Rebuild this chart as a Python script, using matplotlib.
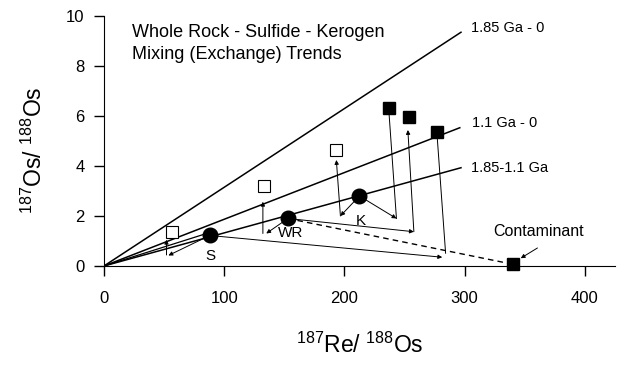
import matplotlib
matplotlib.use('Agg')
import matplotlib.pyplot as plt

plt.rcParams['font.family'] = ['Liberation Sans', 'DejaVu Sans']
plt.rcParams['mathtext.fontset'] = 'custom'
plt.rcParams['mathtext.rm'] = 'Liberation Sans'
plt.rcParams['mathtext.default'] = 'rm'

# reference isochrons (from origin to end point)
iso_labels = ['1.85 Ga - 0', '1.1 Ga - 0', '1.85-1.1 Ga']
iso_end_x = [297, 296, 297]
iso_end_y = [9.35, 5.53, 3.93]

# samples: whole rock, sulfide, kerogen
circle_names = ['S', 'WR', 'K']
circle_x = [88, 153, 212.5]
circle_y = [1.22, 1.9, 2.8]

open_sq_x = [56.5, 133, 193.3]
open_sq_y = [1.37, 3.2, 4.64]

filled_sq_x = [237, 253.6, 277]
filled_sq_y = [6.31, 5.95, 5.37]

contam_x = 340
contam_y = 0.07

# exchange arrows: (x0, y0, x1, y1), head at the end
arrows = [
    (88, 1.22, 53.6, 0.42),
    (52, 0.44, 52, 1.05),
    (153, 1.9, 135, 1.3),
    (132.2, 1.3, 132.2, 2.57),
    (212.5, 2.8, 196.7, 2.0),
    (196.7, 2.0, 193.3, 4.24),
    (212.5, 2.8, 243.3, 1.9),
    (153, 1.9, 257.8, 1.37),
    (257.8, 1.37, 252.8, 5.44),
    (88, 1.22, 281.4, 0.35),
]
# plain connecting lines (no head)
plain_lines = [
    (237, 6.2, 243.3, 1.9),
    (277, 5.3, 284.2, 0.51),
]

fig = plt.figure(figsize=(6.2, 3.72), dpi=100)
ax = fig.add_axes([0.1677, 0.285, 0.824, 0.672])

for ex, ey in zip(iso_end_x, iso_end_y):
    ax.plot([0, ex], [0, ey], color='black', lw=1.1)
# short line from origin to S
ax.plot([0, circle_x[0]], [0, circle_y[0] + 0.12], color='black', lw=0.9)

for x0, y0, x1, y1 in plain_lines:
    ax.plot([x0, x1], [y0, y1], color='black', lw=0.7)

for x0, y0, x1, y1 in arrows:
    ax.annotate('', xy=(x1, y1), xytext=(x0, y0),
                arrowprops=dict(arrowstyle='-|>', lw=0.7, color='black',
                                mutation_scale=6, shrinkA=0, shrinkB=0))

# dashed mixing line WR -> contaminant
ax.plot([circle_x[1], contam_x], [circle_y[1], contam_y], color='black',
        lw=1.0, ls=(0, (4, 3)))

ax.plot(open_sq_x, open_sq_y, 's', ms=8.5, mfc='white', mec='black', mew=0.8)
ax.plot(filled_sq_x, filled_sq_y, 's', ms=9, color='black')
ax.plot([contam_x], [contam_y], 's', ms=8.5, color='black', clip_on=False, zorder=5)
ax.plot(circle_x, circle_y, 'o', ms=10.5, color='black', zorder=5)

# labels
ax.text(88.3, 0.4, 'S', fontsize=11, ha='center', va='center')
ax.text(155, 1.33, 'WR', fontsize=11, ha='center', va='center')
ax.text(213.3, 1.81, 'K', fontsize=11, ha='center', va='center')

ax.text(305, 9.52, iso_labels[0], fontsize=10.5, va='center')
ax.text(305.8, 5.72, iso_labels[1], fontsize=10.5, va='center')
ax.text(305, 3.92, iso_labels[2], fontsize=10.5, va='center')

ax.text(324, 1.37, 'Contaminant', fontsize=11.5, va='center')
ax.annotate('', xy=(346.7, 0.31), xytext=(360.6, 0.72),
            arrowprops=dict(arrowstyle='-|>', lw=0.7, color='black',
                            mutation_scale=6, shrinkA=0, shrinkB=0))

ax.text(23, 9.32, 'Whole Rock - Sulfide - Kerogen', fontsize=13, va='center')
ax.text(23, 8.44, 'Mixing (Exchange) Trends', fontsize=13, va='center')

ax.set_xlim(0, 425)
ax.set_ylim(0, 10)
ax.set_xticks([0, 100, 200, 300, 400])
ax.set_yticks([0, 2, 4, 6, 8, 10])
ax.tick_params(direction='out', length=7, width=1, labelsize=12)
ax.tick_params(axis='x', pad=11)
ax.tick_params(axis='y', pad=7)
ax.spines['top'].set_visible(False)
ax.spines['right'].set_visible(False)

fig.text(0.58, 0.072, r'$^{187}$Re/ $^{188}$Os', fontsize=16.5, ha='center', va='center')
fig.text(0.055, 0.597, r'$^{187}$Os/ $^{188}$Os', fontsize=16.5, ha='center', va='center',
         rotation=90)

fig.savefig('out.png', dpi=100)
